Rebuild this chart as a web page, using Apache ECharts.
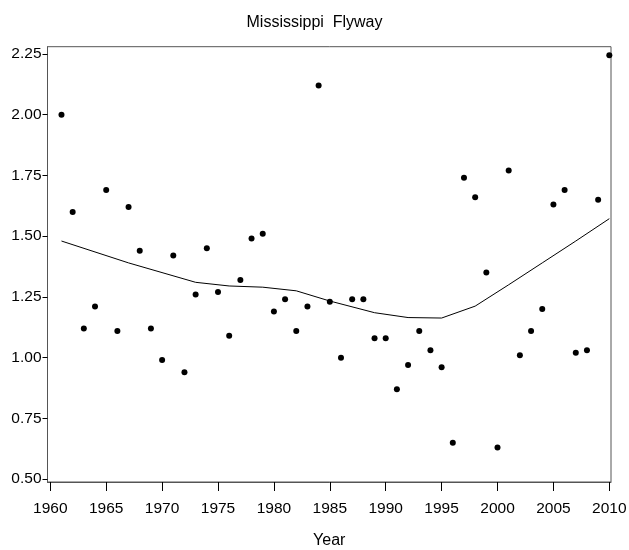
<!DOCTYPE html>
<html>
<head>
<meta charset="utf-8">
<script src="https://cdn.jsdelivr.net/npm/echarts@6/dist/echarts.min.js"></script>
<style>
html,body{margin:0;padding:0;background:#fff;}
#chart{width:629px;height:550px;}
</style>
</head>
<body>
<div id="chart"></div>
<script>
var years = [1961,1962,1963,1964,1965,1966,1967,1968,1969,1970,
             1971,1972,1973,1974,1975,1976,1977,1978,1979,1980,
             1981,1982,1983,1984,1985,1986,1987,1988,1989,1990,
             1991,1992,1993,1994,1995,1996,1997,1998,1999,2000,
             2001,2002,2003,2004,2005,2006,2007,2008,2009,2010];
var values = [2.00,1.60,1.12,1.21,1.69,1.11,1.62,1.44,1.12,0.99,
              1.42,0.94,1.26,1.45,1.27,1.09,1.32,1.49,1.51,1.19,
              1.24,1.11,1.21,2.12,1.23,1.00,1.24,1.24,1.08,1.08,
              0.87,0.97,1.11,1.03,0.96,0.65,1.74,1.66,1.35,0.63,
              1.77,1.01,1.11,1.20,1.63,1.69,1.02,1.03,1.65,2.245];
var fitYears = [1961,1967,1973,1976,1979,1982,1985,1989,1992,1995,1998,2001,2004,2007,2010];
var fitValues = [1.48,1.39,1.31,1.295,1.29,1.275,1.233,1.185,1.165,1.163,1.212,1.30,1.39,1.48,1.572];
var xTicks = [1960,1965,1970,1975,1980,1985,1990,1995,2000,2005,2010];
var yTicks = [0.50,0.75,1.00,1.25,1.50,1.75,2.00,2.25];

var chart = echarts.init(document.getElementById('chart'), null, {renderer:'canvas'});
var font = '"Liberation Sans", Arial, sans-serif';
var frame = '#555';
chart.setOption({
  animation:false,
  backgroundColor:'#fff',
  title:{text:'Mississippi  Flyway', left:'center', top:10,
    textStyle:{fontFamily:font, fontSize:16, fontWeight:'normal', color:'#000'}},
  grid:{left:47.5, right:18, top:46.7, bottom:68, show:true, borderColor:frame, borderWidth:1,
    containLabel:false, outerBoundsMode:'none'},
  xAxis:{type:'value', min:1959.75, max:2010.15,
    name:'Year', nameLocation:'middle', nameGap:51,
    nameTextStyle:{fontFamily:font, fontSize:16, color:'#000'},
    axisLine:{show:true, lineStyle:{color:frame, width:1}},
    axisTick:{show:true, length:9, customValues:xTicks, lineStyle:{color:'#000'}},
    axisLabel:{customValues:xTicks, margin:19, fontFamily:font, fontSize:15.5, color:'#000',
      formatter:function(v){return String(Math.round(v));}},
    splitLine:{show:false}},
  yAxis:{type:'value', min:0.488, max:2.28,
    axisLine:{show:true, lineStyle:{color:frame, width:1}},
    axisTick:{show:true, length:5, customValues:yTicks, lineStyle:{color:'#000'}},
    axisLabel:{customValues:yTicks, margin:6, fontFamily:font, fontSize:15.5, color:'#000',
      formatter:function(v){return v.toFixed(2);}},
    splitLine:{show:false}},
  series:[
    {type:'line', data:fitYears.map(function(y,i){return [y,fitValues[i]];}),
      showSymbol:false, symbol:'none', lineStyle:{color:'#000', width:1}, z:2},
    {type:'scatter', data:years.map(function(y,i){return [y,values[i]];}),
      symbol:'circle', symbolSize:6, itemStyle:{color:'#000', opacity:1}, z:3}
  ]
});
</script>
</body>
</html>
